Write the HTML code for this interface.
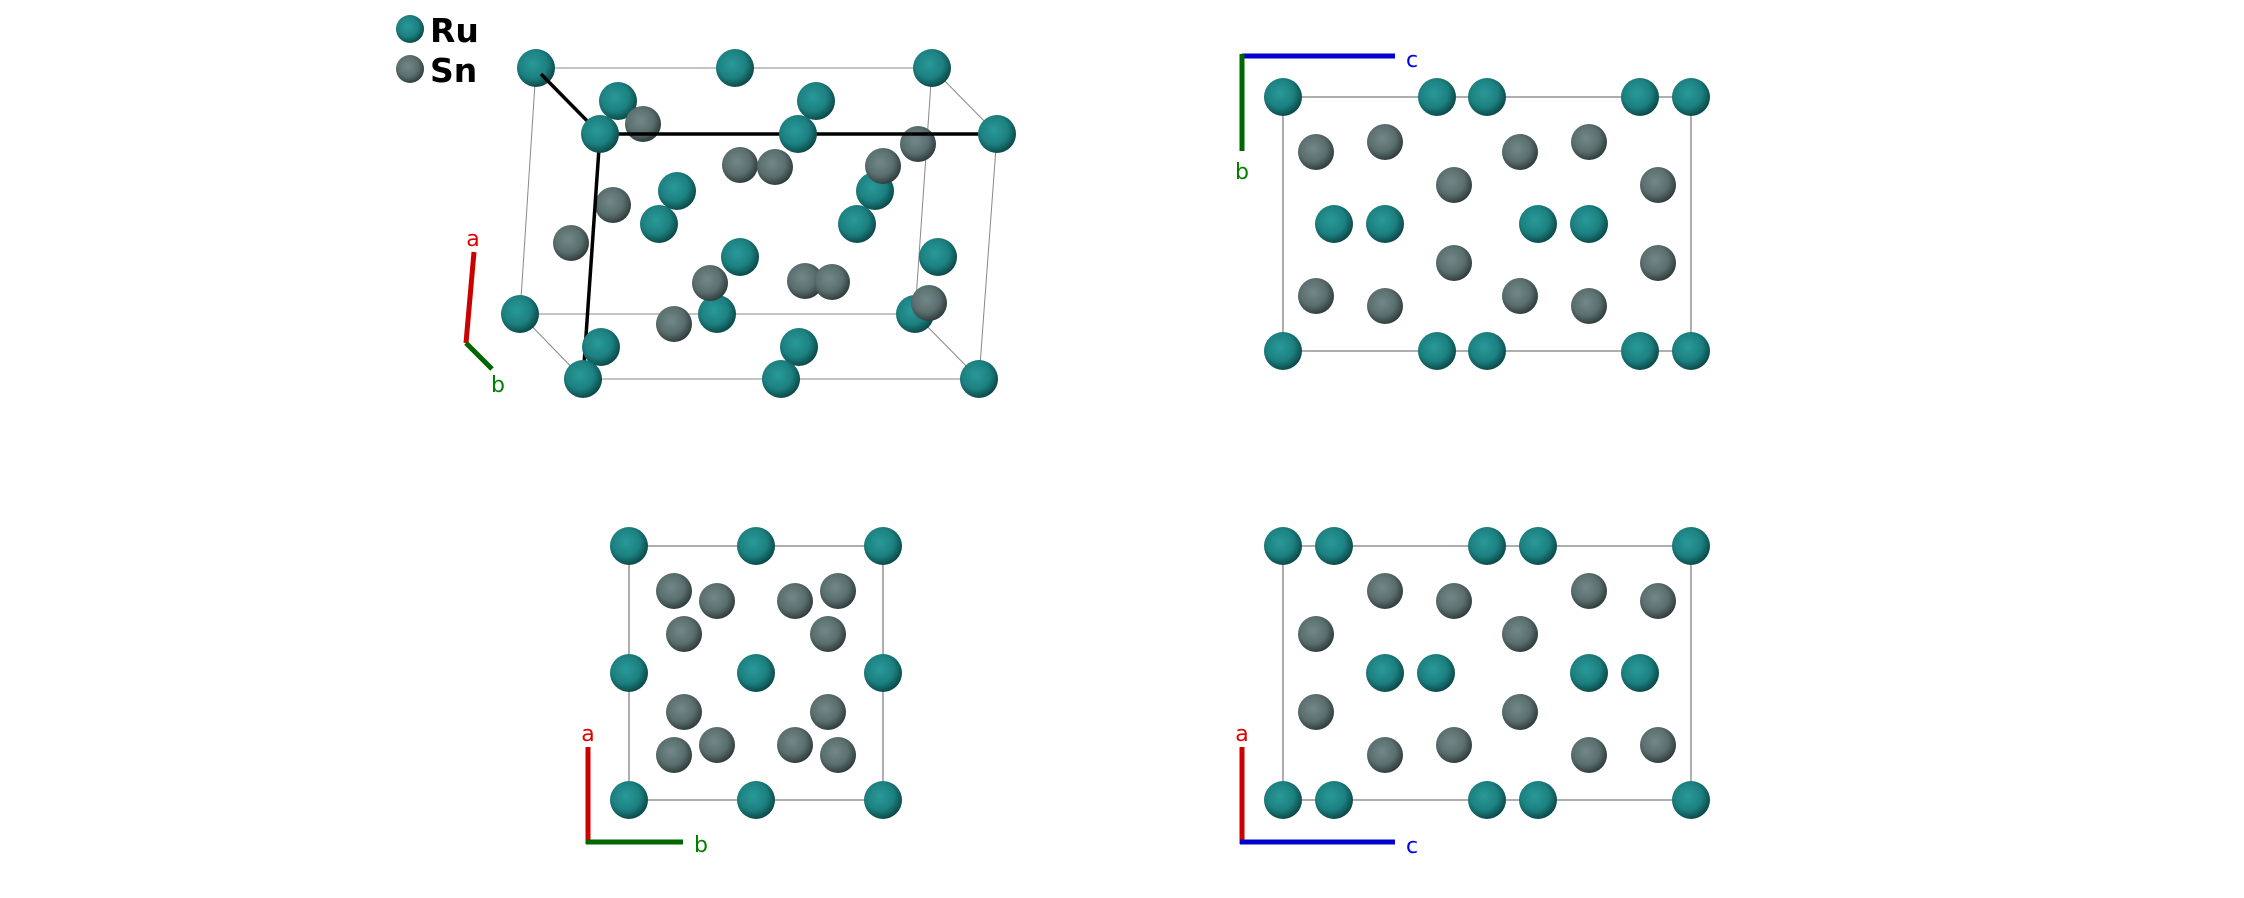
<!DOCTYPE html>
<html><head><meta charset="utf-8"><style>
html,body{margin:0;padding:0;background:#fff;}
svg{display:block;}
text{font-family:"DejaVu Sans","Liberation Sans",sans-serif;}
</style></head><body>
<svg width="2244" height="898" viewBox="0 0 2244 898" xmlns="http://www.w3.org/2000/svg">
<defs>
<radialGradient id="ru" cx="0.42" cy="0.4" r="0.62">
<stop offset="0" stop-color="#2a9999"/><stop offset="0.6" stop-color="#1c8080"/><stop offset="1" stop-color="#0b4646"/>
</radialGradient>
<radialGradient id="sn" cx="0.42" cy="0.4" r="0.62">
<stop offset="0" stop-color="#728888"/><stop offset="0.6" stop-color="#5a6e6e"/><stop offset="1" stop-color="#2e3a3a"/>
</radialGradient>
</defs>

<!-- Panel 1 lines -->
<g stroke="#888" stroke-width="1" fill="none">
<line x1="536" y1="68" x2="932" y2="68"/><line x1="520" y1="314" x2="915" y2="314"/>
<line x1="536" y1="68" x2="520" y2="314"/><line x1="932" y1="68" x2="915" y2="314"/>
<line x1="583" y1="379" x2="979" y2="379"/><line x1="997" y1="134" x2="979" y2="379"/>
<line x1="932" y1="68" x2="997" y2="134"/><line x1="520" y1="314" x2="583" y2="379"/><line x1="915" y1="314" x2="979" y2="379"/>
</g>
<g fill="url(#ru)">
<circle cx="536" cy="68" r="19"/><circle cx="735" cy="68" r="19"/><circle cx="932" cy="68" r="19"/>
<circle cx="520" cy="314" r="19"/><circle cx="717" cy="314" r="19"/><circle cx="915" cy="314" r="19"/>
<circle cx="618" cy="101" r="19"/><circle cx="816" cy="101" r="19"/>
<circle cx="677" cy="191" r="19"/><circle cx="875" cy="191" r="19"/>
<circle cx="659" cy="224" r="19"/><circle cx="857" cy="224" r="19"/>
<circle cx="740" cy="257" r="19"/><circle cx="938" cy="257" r="19"/>
</g>
<g fill="url(#sn)">
<circle cx="643" cy="124" r="18"/><circle cx="918" cy="144" r="18"/><circle cx="740" cy="165" r="18"/>
<circle cx="775" cy="167" r="18"/><circle cx="883" cy="166" r="18"/><circle cx="613" cy="205" r="18"/>
<circle cx="571" cy="243" r="18"/><circle cx="710" cy="283" r="18"/><circle cx="805" cy="281" r="18"/>
<circle cx="832" cy="282" r="18"/><circle cx="929" cy="303" r="18"/><circle cx="674" cy="324" r="18"/>
</g>
<g stroke="#000" stroke-width="3.5">
<line x1="541" y1="74" x2="600" y2="134"/><line x1="600" y1="134" x2="997" y2="134"/><line x1="600" y1="134" x2="583" y2="379"/>
</g>
<g fill="url(#ru)">
<circle cx="600" cy="134" r="19"/><circle cx="798" cy="134" r="19"/><circle cx="997" cy="134" r="19"/>
<circle cx="601" cy="347" r="19"/><circle cx="799" cy="347" r="19"/>
<circle cx="583" cy="379" r="19"/><circle cx="781" cy="379" r="19"/><circle cx="979" cy="379" r="19"/>
</g>
<line x1="466" y1="343" x2="474" y2="252" stroke="#cc0000" stroke-width="5"/>
<line x1="466" y1="343" x2="492" y2="369" stroke="#006600" stroke-width="5"/>
<text x="473" y="246" font-size="22" fill="#e00000" text-anchor="middle">a</text>
<text x="498" y="392" font-size="22" fill="#008000" text-anchor="middle">b</text>
<!-- legend -->
<circle cx="410" cy="29" r="14" fill="url(#ru)"/><circle cx="410" cy="69" r="14" fill="url(#sn)"/>
<text x="430" y="42" font-size="33" font-weight="bold" fill="#000">Ru</text>
<text x="430" y="82" font-size="33" font-weight="bold" fill="#000">Sn</text>

<!-- Panel 2 -->
<rect x="1283" y="97" width="408" height="254" fill="none" stroke="#777" stroke-width="1.2"/>
<g fill="url(#ru)">
<circle cx="1283" cy="97" r="19"/><circle cx="1437" cy="97" r="19"/><circle cx="1487" cy="97" r="19"/><circle cx="1640" cy="97" r="19"/><circle cx="1691" cy="97" r="19"/>
<circle cx="1283" cy="351" r="19"/><circle cx="1437" cy="351" r="19"/><circle cx="1487" cy="351" r="19"/><circle cx="1640" cy="351" r="19"/><circle cx="1691" cy="351" r="19"/>
<circle cx="1334" cy="224" r="19"/><circle cx="1385" cy="224" r="19"/><circle cx="1538" cy="224" r="19"/><circle cx="1589" cy="224" r="19"/>
</g>
<g fill="url(#sn)">
<circle cx="1316" cy="152" r="18"/><circle cx="1385" cy="142" r="18"/><circle cx="1454" cy="185" r="18"/><circle cx="1520" cy="152" r="18"/><circle cx="1589" cy="142" r="18"/><circle cx="1658" cy="185" r="18"/>
<circle cx="1454" cy="263" r="18"/><circle cx="1658" cy="263" r="18"/><circle cx="1316" cy="296" r="18"/><circle cx="1385" cy="306" r="18"/><circle cx="1520" cy="296" r="18"/><circle cx="1589" cy="306" r="18"/>
</g>
<line x1="1242" y1="56" x2="1395" y2="56" stroke="#0000cc" stroke-width="5"/>
<line x1="1242" y1="54" x2="1242" y2="151" stroke="#006600" stroke-width="5"/>
<text x="1406" y="67" font-size="22" fill="#0000ee">c</text>
<text x="1242" y="179" font-size="22" fill="#008000" text-anchor="middle">b</text>

<!-- Panel 3 -->
<rect x="629" y="546" width="254" height="254" fill="none" stroke="#777" stroke-width="1.2"/>
<g fill="url(#ru)">
<circle cx="629" cy="546" r="19"/><circle cx="756" cy="546" r="19"/><circle cx="883" cy="546" r="19"/>
<circle cx="629" cy="673" r="19"/><circle cx="756" cy="673" r="19"/><circle cx="883" cy="673" r="19"/>
<circle cx="629" cy="800" r="19"/><circle cx="756" cy="800" r="19"/><circle cx="883" cy="800" r="19"/>
</g>
<g fill="url(#sn)">
<circle cx="674" cy="591" r="18"/><circle cx="717" cy="601" r="18"/><circle cx="684" cy="634" r="18"/><circle cx="795" cy="601" r="18"/><circle cx="838" cy="591" r="18"/><circle cx="828" cy="634" r="18"/>
<circle cx="684" cy="712" r="18"/><circle cx="674" cy="755" r="18"/><circle cx="717" cy="745" r="18"/><circle cx="828" cy="712" r="18"/><circle cx="795" cy="745" r="18"/><circle cx="838" cy="755" r="18"/>
</g>
<line x1="588" y1="747" x2="588" y2="844" stroke="#cc0000" stroke-width="5"/>
<line x1="586" y1="842" x2="683" y2="842" stroke="#006600" stroke-width="5"/>
<text x="588" y="741" font-size="22" fill="#e00000" text-anchor="middle">a</text>
<text x="694" y="852" font-size="22" fill="#008000">b</text>

<!-- Panel 4 -->
<rect x="1283" y="546" width="408" height="254" fill="none" stroke="#777" stroke-width="1.2"/>
<g fill="url(#ru)">
<circle cx="1283" cy="546" r="19"/><circle cx="1334" cy="546" r="19"/><circle cx="1487" cy="546" r="19"/><circle cx="1538" cy="546" r="19"/><circle cx="1691" cy="546" r="19"/>
<circle cx="1283" cy="800" r="19"/><circle cx="1334" cy="800" r="19"/><circle cx="1487" cy="800" r="19"/><circle cx="1538" cy="800" r="19"/><circle cx="1691" cy="800" r="19"/>
<circle cx="1385" cy="673" r="19"/><circle cx="1436" cy="673" r="19"/><circle cx="1589" cy="673" r="19"/><circle cx="1640" cy="673" r="19"/>
</g>
<g fill="url(#sn)">
<circle cx="1385" cy="591" r="18"/><circle cx="1454" cy="601" r="18"/><circle cx="1589" cy="591" r="18"/><circle cx="1658" cy="601" r="18"/>
<circle cx="1316" cy="634" r="18"/><circle cx="1520" cy="634" r="18"/><circle cx="1316" cy="712" r="18"/><circle cx="1520" cy="712" r="18"/>
<circle cx="1385" cy="755" r="18"/><circle cx="1454" cy="745" r="18"/><circle cx="1589" cy="755" r="18"/><circle cx="1658" cy="745" r="18"/>
</g>
<line x1="1242" y1="747" x2="1242" y2="844" stroke="#cc0000" stroke-width="5"/>
<line x1="1240" y1="842" x2="1395" y2="842" stroke="#0000cc" stroke-width="5"/>
<text x="1242" y="741" font-size="22" fill="#e00000" text-anchor="middle">a</text>
<text x="1406" y="853" font-size="22" fill="#0000ee">c</text>
</svg>
</body></html>
